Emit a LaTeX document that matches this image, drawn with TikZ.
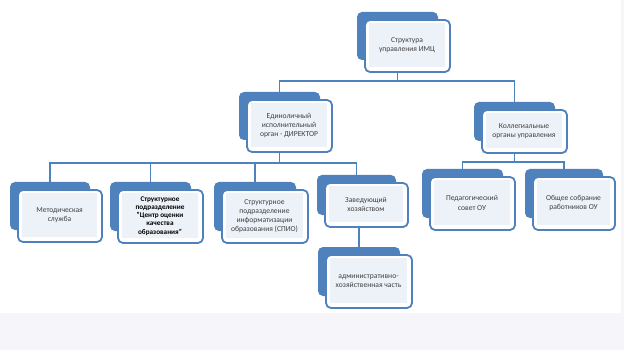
\documentclass[tikz,border=0pt]{standalone}
\usepackage{fontspec}
\setmainfont{Carlito}
\usetikzlibrary{fit,calc}
\definecolor{bblue}{HTML}{4F81BD}
\definecolor{pale}{HTML}{EDF2F9}
\definecolor{txt}{HTML}{404040}
\definecolor{band}{HTML}{F6F6FA}
\tikzset{
  x=1pt, y=-1pt,
  backbox/.style={fill=bblue, rounded corners=5pt, inner sep=0pt, draw=none},
  frontbox/.style={fill=white, draw=bblue, line width=1.8pt, rounded corners=5pt, inner sep=0pt},
  boxtext/.style={font=\fontsize{7.6}{9.2}\selectfont, text=txt, align=center},
  conn/.style={draw=bblue, line width=1.4pt},
}
\newcommand\orgunit[7]{% name, fx1, fy1, fx2, fy2, text, extra
  \node[backbox, fit={(#2-8,#3-8) (#4-12,#5-12)}] (#1B) {};
  \node[frontbox, fit={(#2,#3) (#4,#5)}] (#1F) {};
  \fill[pale] ($(#1F.north west)+(5,4)$) rectangle ($(#1F.south east)+(-6,-6)$);
  \node[boxtext, #7] (#1T) at ($(#1F.center)+(-0.5,-0.5)$) {#6};
}
\begin{document}
\begin{tikzpicture}
\useasboundingbox (0,0) rectangle (624,350);
\fill[band] (0,0) rectangle (624,350);
\fill[white] (0,0) rectangle (621,313);

\orgunit{top}{365}{20}{450}{72}{Структура\\управления ИМЦ}{}
\orgunit{dir}{247}{100}{332}{152}{Единоличный\\исполнительный\\орган - ДИРЕКТОР}{}
\orgunit{kol}{482}{110}{567}{153}{Коллегиальные\\органы управления}{}
\orgunit{met}{18}{190}{102}{242}{Методическая\\служба}{}
\orgunit{cen}{118}{190}{203}{243}{Структурное\\подразделение\\"Центр оценки\\качества\\образования"}{text=black, font=\fontsize{7.2}{8.2}\selectfont\bfseries}
\orgunit{spio}{222}{190}{308}{243}{Структурное\\подразделение\\информатизации\\образования (СПИО)}{}
\orgunit{zav}{325}{183}{408}{227}{Заведующий\\хозяйством}{}
\orgunit{adm}{326}{255}{412}{308}{административно-\\хозяйственная часть}{}
\orgunit{ped}{430}{177}{515}{230}{Педагогический\\совет ОУ}{}
\orgunit{obs}{533}{177}{615}{230}{Общее собрание\\работников ОУ}{}

\draw[conn] (topF.south -| topB.south) -- ++(0,8) -| (dirB.north);
\draw[conn] (topF.south -| topB.south) -- ++(0,8) -| (kolB.north);
\draw[conn] (dirF.south -| dirB.south) -- ++(0,10) -| (metB.north);
\draw[conn] (dirF.south -| dirB.south) -- ++(0,10) -| (cenB.north);
\draw[conn] (dirF.south -| dirB.south) -- ++(0,10) -| (spioB.north);
\draw[conn] (dirF.south -| dirB.south) -- ++(0,10) -| (zavB.north);
\draw[conn] (zavF.south -| admB.north) -- (admB.north);
\draw[conn] (kolF.south -| kolB.south) -- ++(0,8) -| (pedB.north);
\draw[conn] (kolF.south -| kolB.south) -- ++(0,8) -| (obsB.north);
\end{tikzpicture}
\end{document}
